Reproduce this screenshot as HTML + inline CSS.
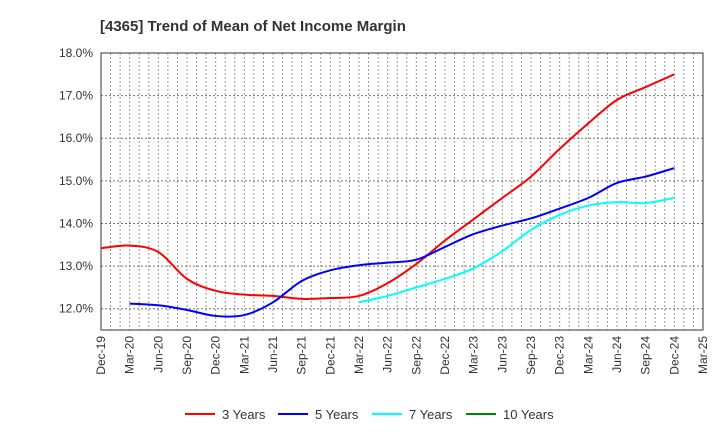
<!DOCTYPE html>
<html><head><meta charset="utf-8"><style>
body{margin:0;background:#fff;font-family:"Liberation Sans",sans-serif}
</style></head><body>
<svg id="c" width="720" height="440" xmlns="http://www.w3.org/2000/svg">
<text x="100" y="31" font-size="15" font-weight="bold" fill="#333">[4365]  Trend of Mean of Net Income Margin</text>
<g id="grid"></g><g id="axes"></g><g id="series"></g><g id="legend"></g>
</svg>
<script>
const xLabels=["Dec-19","Mar-20","Jun-20","Sep-20","Dec-20","Mar-21","Jun-21","Sep-21","Dec-21","Mar-22","Jun-22","Sep-22","Dec-22","Mar-23","Jun-23","Sep-23","Dec-23","Mar-24","Jun-24","Sep-24","Dec-24","Mar-25"];
const yTicks=[12,13,14,15,16,17,18];
const s3=[13.42,13.48,13.33,12.7,12.42,12.33,12.3,12.23,12.25,12.3,12.6,13.05,13.6,14.1,14.6,15.1,15.75,16.35,16.9,17.2,17.5];
const s3Start=0;
const s5=[12.12,12.08,11.97,11.83,11.85,12.15,12.65,12.9,13.02,13.08,13.15,13.45,13.75,13.95,14.12,14.35,14.6,14.95,15.1,15.3];
const s5Start=1;
const s7=[12.15,12.3,12.5,12.7,12.95,13.35,13.85,14.2,14.42,14.5,14.48,14.6];
const s7Start=9;
const s10=[];
const s10Start=0;
const L=101,R=703,T=53,B=330,yMin=11.5,yMax=18;
const NS="http://www.w3.org/2000/svg";
const xq=i=>L+i*(R-L)/21;
const xm=m=>L+m*(R-L)/63;
const y=v=>B-(v-yMin)/(yMax-yMin)*(B-T);
function mk(t,a,p){const e=document.createElementNS(NS,t);for(const k in a)e.setAttribute(k,a[k]);p.appendChild(e);return e;}
const g=document.getElementById('grid'),ax=document.getElementById('axes'),se=document.getElementById('series'),lg=document.getElementById('legend');
for(let m=1;m<63;m++){const l=mk('line',{x1:xm(m),x2:xm(m),y1:T,y2:B,stroke:'#999','stroke-dasharray':'2,2','stroke-width':1},g);

}
yTicks.forEach(v=>{const l=mk('line',{x1:L,x2:R,y1:y(v),y2:y(v),stroke:'#777','stroke-dasharray':'2,2','stroke-width':1},g);


const t=mk('text',{x:L-8,y:y(v)+4,'text-anchor':'end','font-size':12,fill:'#333'},ax);t.textContent=v.toFixed(1)+'%';

});
const fr=mk('rect',{x:L,y:T,width:R-L,height:B-T,fill:'none',stroke:'#333','stroke-width':1},ax);


xLabels.forEach((s,i)=>{const t=mk('text',{x:0,y:0,'text-anchor':'end','font-size':12,fill:'#333',transform:`translate(${xq(i)+4},${B+6}) rotate(-90)`},ax);t.textContent=s;

});
function path(vals,st){const p=vals.map((v,i)=>[xq(st+i),y(v)]);if(!p.length)return'';let d=`M${p[0][0]},${p[0][1]}`;
for(let i=0;i<p.length-1;i++){const p0=p[i-1]||p[i],p1=p[i],p2=p[i+1],p3=p[i+2]||p2;
d+=` C${p1[0]+(p2[0]-p0[0])/6},${p1[1]+(p2[1]-p0[1])/6} ${p2[0]-(p3[0]-p1[0])/6},${p2[1]-(p3[1]-p1[1])/6} ${p2[0]},${p2[1]}`;}return d;}
[[s3,s3Start,'#f00','line-3-years'],[s5,s5Start,'#00f','line-5-years'],[s7,s7Start,'#0ff','line-7-years'],[s10,s10Start,'#080','line-10-years']].forEach(([v,s,c,n])=>{if(!v.length)return;
const e=mk('path',{d:path(v,s),fill:'none',stroke:c,'stroke-width':2},se);

});
[['3 Years','#f00',185],['5 Years','#00f',278],['7 Years','#0ff',372],['10 Years','#080',466]].forEach(([t,c,x])=>{
const l=mk('line',{x1:x,x2:x+30,y1:414,y2:414,stroke:c,'stroke-width':2},lg);


const tx=mk('text',{x:x+37,y:419,'font-size':13,fill:'#333'},lg);tx.textContent=t;

});
</script>
</body></html>
